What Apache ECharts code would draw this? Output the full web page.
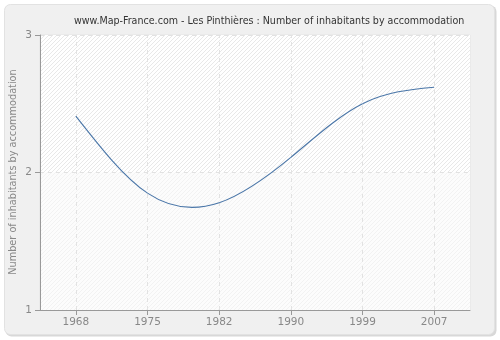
<!DOCTYPE html>
<html><head><meta charset="utf-8">
<script src="https://cdn.jsdelivr.net/npm/echarts@6/dist/echarts.min.js"></script>
<style>html,body{margin:0;padding:0;background:#fff}#c{width:500px;height:340px}</style>
</head><body><div id="c"></div>
<script>
const years = ['1968','1975','1982','1990','1999','2007'];
const values = [2.41, 1.85, 1.78, 2.11, 2.50, 2.62];
const yTicks = [1, 2, 3];
const titleText = 'www.Map-France.com - Les Pinthières : Number of inhabitants by accommodation';
const yName = 'Number of inhabitants by accommodation';

// natural cubic spline slopes (index spacing = 1)
function splineDerivs(y){
  const n = y.length, M = new Array(n).fill(0);
  const m = n - 2, c = [], d = [];
  for (let i = 1; i <= m; i++){
    const rhs = 6*(y[i+1]-2*y[i]+y[i-1]);
    const k = i-1;
    if (k === 0){ c[k] = 1/4; d[k] = rhs/4; }
    else { const den = 4 - c[k-1]; c[k] = 1/den; d[k] = (rhs - d[k-1])/den; }
  }
  for (let k = m-1; k >= 0; k--){ M[k+1] = d[k] - (k < m-1 ? c[k]*M[k+2] : 0); }
  const D = [];
  for (let i = 0; i < n-1; i++) D[i] = (y[i+1]-y[i]) - (2*M[i]+M[i+1])/6;
  D[n-1] = (y[n-1]-y[n-2]) + (M[n-2]+2*M[n-1])/6;
  return D;
}
const derivs = splineDerivs(values);

function hatch(bg, line){
  const s = 4;
  const c = document.createElement('canvas');
  c.width = s; c.height = s;
  const g = c.getContext('2d');
  g.fillStyle = bg; g.fillRect(0,0,s,s);
  g.fillStyle = line;
  for (let i = 0; i < s; i++){ g.fillRect(i, s-1-i, 1, 1); }
  return c;
}
const gridLine = {color:'#e2e2e2',type:[4,4],width:1};
const chart = echarts.init(document.getElementById('c'));
chart.setOption({
  animation:false,
  backgroundColor:'#ffffff',
  graphic:[
    {type:'rect',z:-10,shape:{x:5.5,y:5.5,width:491,height:331,r:6},style:{fill:'#d8d8d8'}},
    {type:'rect',z:-10,shape:{x:4.5,y:4.5,width:490,height:330,r:6},style:{fill:'#f0f0f0',stroke:'#e2e2e2',lineWidth:1}},
    {type:'text',z:5,x:13,y:172,rotation:Math.PI/2,
      style:{text:yName,align:'center',verticalAlign:'middle',fill:'#888',font:'10.8px "DejaVu Sans Condensed"'}}
  ],
  title:{text:titleText,left:69,top:11,
    textStyle:{fontFamily:'DejaVu Sans Condensed',fontSize:10.6,fontWeight:'normal',color:'#333'}},
  grid:{left:40,right:30,top:35,bottom:30,show:true,backgroundColor:'#ffffff',borderWidth:1,borderColor:'#e4e4e4',outerBoundsMode:'none'},
  xAxis:{type:'category',data:years,boundaryGap:true,z:5,
    axisLine:{lineStyle:{color:'#999'}},
    axisTick:{show:true,alignWithLabel:true,length:5,lineStyle:{color:'#999'}},
    axisLabel:{color:'#888',fontFamily:'DejaVu Sans',fontSize:10.5,margin:7},
    splitLine:{show:false}},
  yAxis:{type:'value',min:yTicks[0],max:yTicks[yTicks.length-1],interval:1,z:5,
    axisLine:{show:true,lineStyle:{color:'#999'}},
    axisTick:{show:true,length:5,lineStyle:{color:'#999'}},
    axisLabel:{color:'#888',fontFamily:'DejaVu Sans',fontSize:10.5,margin:8},
    splitLine:{show:true,lineStyle:gridLine}},
  series:[
    {type:'line',data:[],z:1,silent:true,
      markArea:{silent:true,data:[
        [{yAxis:2,itemStyle:{color:{image:hatch('#ffffff','#e8e8e8'),repeat:'repeat'}}},{yAxis:3}],
        [{yAxis:1,itemStyle:{color:{image:hatch('#fcfcfc','#f2f2f2'),repeat:'repeat'}}},{yAxis:2}]
      ]},
      markLine:{silent:true,symbol:'none',label:{show:false},lineStyle:gridLine,
        data:years.map(y=>({xAxis:y}))}},
    {type:'custom',z:10,silent:true,
      data:values.map((v,i)=>[i,v]),
      encode:{x:0,y:1},
      renderItem:function(params, api){
        const i = params.dataIndex;
        if (i >= values.length-1) return null;
        const p0 = api.coord([i, values[i]]);
        const p1 = api.coord([i+1, values[i+1]]);
        const unit = api.coord([i, values[i]+1])[1] - p0[1];
        const dx = p1[0]-p0[0];
        return {type:'bezierCurve',
          shape:{x1:p0[0],y1:p0[1],x2:p1[0],y2:p1[1],
            cpx1:p0[0]+dx/3, cpy1:p0[1]+derivs[i]*unit/3,
            cpx2:p1[0]-dx/3, cpy2:p1[1]-derivs[i+1]*unit/3},
          style:{stroke:'#4a76a8',lineWidth:1.1,fill:null}};
      }}
  ]
});
</script></body></html>
